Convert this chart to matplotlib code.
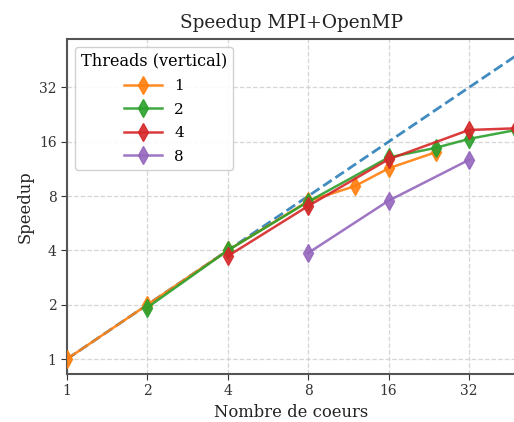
import matplotlib
matplotlib.use("Agg")
import matplotlib.pyplot as plt
from matplotlib.ticker import FixedLocator, FixedFormatter, NullLocator

plt.rcParams['font.family'] = ['DejaVu Serif']

cores_1 = [1, 2, 4, 8, 12, 16, 24]
speed_1 = [1.0, 2.0, 4.0, 7.5, 9.1, 11.4, 14.0]
cores_2 = [2, 4, 8, 16, 24, 32, 48]
speed_2 = [1.93, 4.0, 7.45, 13.1, 14.8, 16.6, 18.6]
cores_4 = [4, 8, 16, 32, 48]
speed_4 = [3.72, 7.05, 12.8, 18.6, 19.0]
cores_8 = [8, 16, 32]
speed_8 = [3.87, 7.54, 12.7]
ideal = [1, 48]
ticks = [1, 2, 4, 8, 16, 32]
tick_labels = ['1', '2', '4', '8', '16', '32']

fig = plt.figure(figsize=(5.14, 4.22), dpi=100)
ax = fig.add_axes([67/514, 48/422, 449/514, 335/422])

ax.plot(ideal, ideal, '--', color='#1f77b4', lw=2, alpha=0.85, zorder=3)
series = [(cores_1, speed_1, '#ff7f0e', '1'),
          (cores_2, speed_2, '#2ca02c', '2'),
          (cores_4, speed_4, '#d62728', '4'),
          (cores_8, speed_8, '#9467bd', '8')]
for x, y, c, lab in series:
    ax.plot(x, y, '-', marker='d', color=c, lw=1.8, ms=9, alpha=0.9, label=lab, zorder=4)

ax.set_xscale('log', base=2)
ax.set_yscale('log', base=2)
ax.set_xlim(1, 48)
ax.set_ylim(0.826, 59.4)
ax.xaxis.set_major_locator(FixedLocator(ticks))
ax.xaxis.set_major_formatter(FixedFormatter(tick_labels))
ax.yaxis.set_major_locator(FixedLocator(ticks))
ax.yaxis.set_major_formatter(FixedFormatter(tick_labels))
ax.xaxis.set_minor_locator(NullLocator())
ax.yaxis.set_minor_locator(NullLocator())
ax.tick_params(labelsize=10, colors='#333333', length=4)
for s in ax.spines.values():
    s.set_color('#555555')
    s.set_linewidth(1.5)
ax.grid(True, ls='--', color='#cccccc', lw=0.9, alpha=0.8)

ax.set_title('Speedup MPI+OpenMP', fontsize=13.3, color='#222222', pad=8)
ax.set_xlabel('Nombre de coeurs', fontsize=11.8, color='#222222')
ax.set_ylabel('Speedup', fontsize=11.8, color='#222222')

leg = ax.legend(title='Threads (vertical)', loc='upper left', fontsize=11,
                title_fontsize=11.6, frameon=True, framealpha=0.9, edgecolor='#cccccc',
                handlelength=2.5, labelspacing=0.62)

fig.savefig('out.png', dpi=100)
